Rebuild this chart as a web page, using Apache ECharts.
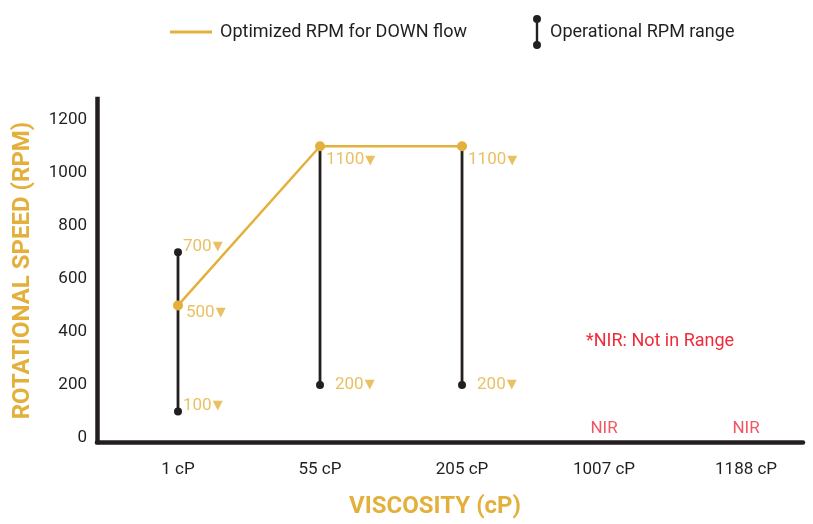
<!DOCTYPE html>
<html>
<head>
<meta charset="utf-8">
<script src="https://cdn.jsdelivr.net/npm/echarts@6/dist/echarts.min.js"></script>
<style>
html,body{margin:0;padding:0;background:#fff;}
#chart{width:813px;height:524px;}
</style>
</head>
<body>
<div id="chart"></div>
<script>
// ---- data ----
var categories = ['1 cP', '55 cP', '205 cP', '1007 cP', '1188 cP'];
var optimizedRPM = [500, 1100, 1100, null, null];
var rangeLow = [100, 200, 200, null, null];
var rangeHigh = [700, 1100, 1100, null, null];
var nirCategories = ['1007 cP', '1188 cP'];
var yTicks = [0, 200, 400, 600, 800, 1000, 1200];

// ---- styles ----
var GOLD = '#e4b03c';
var DARK = '#231f20';
var RED = '#ee2b3b';
var FONT = 'Roboto';

var chart = echarts.init(document.getElementById('chart'), null, {renderer: 'canvas'});

function idx(c) { return categories.indexOf(c); }

var rangeData = [];
categories.forEach(function (c, i) {
  if (rangeLow[i] != null) rangeData.push([i, rangeLow[i], rangeHigh[i]]);
});
var optData = [];
categories.forEach(function (c, i) {
  if (optimizedRPM[i] != null) optData.push([i, optimizedRPM[i]]);
});

function lbl(i, v, off) {
  return {value: [i, v], label: {offset: off}};
}
var labelData = [];
categories.forEach(function (c, i) {
  if (rangeLow[i] == null) return;
  var coincide = rangeHigh[i] === optimizedRPM[i];
  if (coincide) {
    labelData.push(lbl(i, rangeHigh[i], [6, 14]));
    labelData.push(lbl(i, rangeLow[i], [15, 0]));
  } else {
    labelData.push(lbl(i, rangeHigh[i], [5, -6]));
    labelData.push(lbl(i, optimizedRPM[i], [8, 7]));
    labelData.push(lbl(i, rangeLow[i], [5, -6]));
  }
});

var nirData = nirCategories.map(function (c) { return [idx(c), 0]; });

var rangeIcon = 'path://M4,0a4,4 0 1,1 0,8a4,4 0 1,1 0,-8Z M2.8,7 H5.2 V27 H2.8 Z M4,26a4,4 0 1,1 0,8a4,4 0 1,1 0,-8Z';

var option = {
  animation: false,
  backgroundColor: '#fff',
  textStyle: {fontFamily: FONT},
  legend: [{
    data: ['Optimized RPM for DOWN flow'],
    left: 170, top: 23,
    padding: 0,
    icon: 'rect',
    itemWidth: 42, itemHeight: 3,
    itemStyle: {color: GOLD},
    textStyle: {fontSize: 18, color: DARK, fontFamily: FONT, padding: [0, 0, 0, 3]}
  }, {
    data: ['Operational RPM range'],
    left: 533, top: 15,
    padding: 0,
    icon: rangeIcon,
    itemWidth: 8, itemHeight: 34,
    itemStyle: {color: DARK, borderWidth: 0},
    textStyle: {fontSize: 18, color: DARK, fontFamily: FONT, padding: [0, 0, 0, 4]}
  }],
  graphic: [{
    type: 'text',
    left: 586, top: 332,
    style: {text: '*NIR: Not in Range', fill: RED, font: '18px Roboto'}
  }],
  grid: {left: 97, right: 10, top: 99, bottom: 76, containLabel: false},
  xAxis: {
    type: 'value',
    min: -0.5704, max: 4.401,
    name: 'VISCOSITY (cP)',
    nameLocation: 'middle',
    nameGap: 53,
    nameTextStyle: {color: GOLD, fontSize: 24, fontWeight: 'bold', fontFamily: FONT, padding: [0, 30, 0, 0]},
    axisLine: {show: true, onZero: false, lineStyle: {color: DARK, width: 4.5}},
    axisTick: {show: false},
    splitLine: {show: false},
    axisLabel: {
      customValues: [0, 1, 2, 3, 4],
      formatter: function (v) { return categories[Math.round(v)]; },
      margin: 19, fontSize: 17, color: DARK, fontFamily: FONT
    }
  },
  yAxis: {
    type: 'value',
    min: -15, max: 1278,
    name: 'ROTATIONAL SPEED (RPM)',
    nameLocation: 'middle',
    nameGap: 62,
    nameTextStyle: {color: GOLD, fontSize: 24, fontWeight: 'bold', fontFamily: FONT},
    axisLine: {show: true, onZero: false, lineStyle: {color: DARK, width: 4.5, cap: 'square'}},
    axisTick: {show: false},
    splitLine: {show: false},
    axisLabel: {
      customValues: yTicks,
      formatter: function (v) { return String(v); },
      margin: 10, fontSize: 17, color: DARK, fontFamily: FONT
    }
  },
  series: [{
    name: 'Operational RPM range',
    type: 'custom',
    color: DARK,
    itemStyle: {color: DARK},
    z: 2,
    data: rangeData,
    encode: {x: 0, y: [1, 2]},
    renderItem: function (params, api) {
      var lo = api.coord([api.value(0), api.value(1)]);
      var hi = api.coord([api.value(0), api.value(2)]);
      return {
        type: 'group',
        children: [{
          type: 'line',
          shape: {x1: lo[0], y1: lo[1], x2: hi[0], y2: hi[1]},
          style: {stroke: DARK, lineWidth: 2.8}
        }, {
          type: 'circle', shape: {cx: lo[0], cy: lo[1], r: 4}, style: {fill: DARK}
        }, {
          type: 'circle', shape: {cx: hi[0], cy: hi[1], r: 4}, style: {fill: DARK}
        }]
      };
    }
  }, {
    name: 'Optimized RPM for DOWN flow',
    type: 'line',
    color: GOLD,
    z: 3,
    data: optData,
    symbol: 'circle',
    symbolSize: 10,
    lineStyle: {color: GOLD, width: 2.5},
    itemStyle: {color: GOLD}
  }, {
    name: 'labels',
    type: 'scatter',
    z: 4,
    symbolSize: 0,
    silent: true,
    data: labelData,
    label: {
      show: true,
      position: 'right',
      distance: 0,
      align: 'left',
      verticalAlign: 'middle',
      formatter: function (p) { return '{v|' + p.value[1] + '}{t|▼}'; },
      rich: {
        v: {fontSize: 17, color: GOLD, fontFamily: FONT},
        t: {fontSize: 13, color: GOLD, fontFamily: 'DejaVu Sans', padding: [0, 0, 0, 1]}
      }
    }
  }, {
    name: 'NIR',
    type: 'scatter',
    z: 4,
    symbolSize: 0,
    silent: true,
    data: nirData,
    label: {
      show: true,
      position: 'top',
      distance: 1,
      formatter: 'NIR',
      fontSize: 17, color: RED, fontFamily: FONT
    }
  }]
};
chart.setOption(option);
</script>
</body>
</html>
